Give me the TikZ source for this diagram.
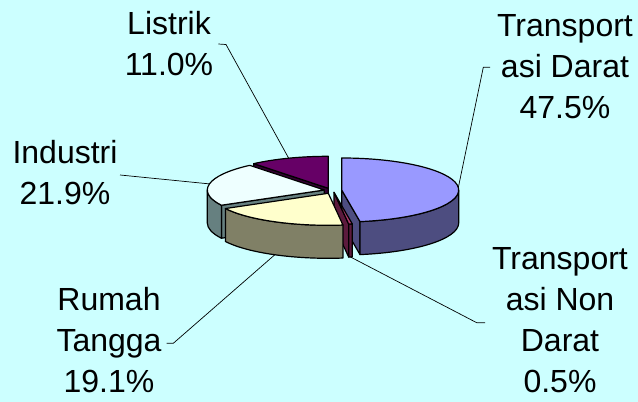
\documentclass[tikz,border=0pt]{standalone}
\usepackage{fontspec}
\setmainfont{Liberation Sans}
\usepackage{tikz}
\usetikzlibrary{positioning}

\definecolor{bgcyan}{HTML}{CCFFFF}
\definecolor{daratTop}{HTML}{9999FF}
\definecolor{daratSide}{HTML}{4D4D80}
\definecolor{nondaratTop}{HTML}{B33A70}
\definecolor{nondaratSide}{HTML}{5C1A3D}
\definecolor{rumahTop}{HTML}{FFFFCC}
\definecolor{rumahSide}{HTML}{808066}
\definecolor{industriTop}{HTML}{EEFFFF}
\definecolor{industriSide}{HTML}{668080}
\definecolor{listrikTop}{HTML}{660066}
\definecolor{listrikSide}{HTML}{330033}

\tikzset{
  rim/.style={x radius=117pt, y radius=32pt},
  face/.style={draw=black, line width=1.2pt, line join=round},
  leader/.style={draw=black, line width=0.7pt},
  label/.style={align=center, anchor=base, inner sep=0pt,
    font=\fontsize{32}{41}\selectfont}
}

\begin{document}
\begin{tikzpicture}[x=1pt, y=1pt]
  \fill[bgcyan] (0,0) rectangle (638,402);
  \useasboundingbox (0,0) rectangle (638,402);

  % slice centres (exploded)
  \coordinate (cD) at (341.7,212.0);
  \coordinate (cN) at (334.0,209.7);
  \coordinate (cR) at (328.3,208.7);
  \coordinate (cI) at (324.3,212.0);
  \coordinate (cL) at (328.3,213.7);

  % Listrik: 90 -> 129.6
  \path (cL) +(129.6:117pt and 32pt) coordinate (L2);
  \draw[face, fill=listrikSide] (cL) -- (L2) -- ([yshift=-33pt]L2) -- ([yshift=-33pt]cL) -- cycle;
  \draw[face, fill=listrikTop] (cL) -- ++(90:117pt and 32pt) arc[rim, start angle=90, end angle=129.6] -- cycle;

  % Industri: 129.6 -> 208.44
  \path (cI) +(208.44:117pt and 32pt) coordinate (I2);
  \draw[face, fill=industriSide] (cI) -- (I2) -- ([yshift=-33pt]I2) -- ([yshift=-33pt]cI) -- cycle;
  \draw[face, fill=industriSide] (cI) ++(180:117pt and 32pt) arc[rim, start angle=180, end angle=208.44]
    -- ++(0,-33) arc[rim, start angle=208.44, end angle=180] -- cycle;
  \draw[face, fill=industriTop] (cI) -- ++(129.6:117pt and 32pt) arc[rim, start angle=129.6, end angle=208.44] -- cycle;

  % Transportasi Darat: -81 -> 90
  \path (cD) +(-81:117pt and 32pt) coordinate (D1);
  \draw[face, fill=daratSide] (cD) -- (D1) -- ([yshift=-33pt]D1) -- ([yshift=-33pt]cD) -- cycle;
  \draw[face, fill=daratSide] (cD) ++(-81:117pt and 32pt) arc[rim, start angle=-81, end angle=0]
    -- ++(0,-33) arc[rim, start angle=0, end angle=-81] -- cycle;
  \draw[face, fill=daratTop] (cD) -- ++(-81:117pt and 32pt) arc[rim, start angle=-81, end angle=90] -- cycle;

  % Transportasi Non Darat: -82.8 -> -81
  \path (cN) +(-82.8:117pt and 32pt) coordinate (N1);
  \draw[face, fill=nondaratSide] (cN) -- (N1) -- ([yshift=-33pt]N1) -- ([yshift=-33pt]cN) -- cycle;
  \draw[face, fill=nondaratSide] (cN) ++(-82.8:117pt and 32pt) arc[rim, start angle=-82.8, end angle=-81]
    -- ++(0,-33) arc[rim, start angle=-81, end angle=-82.8] -- cycle;
  \draw[face, fill=nondaratTop] (cN) -- ++(-82.8:117pt and 32pt) arc[rim, start angle=-82.8, end angle=-81] -- cycle;

  % Rumah Tangga: -151.56 -> -82.8
  \draw[face, fill=rumahSide] (cR) ++(-151.56:117pt and 32pt) arc[rim, start angle=-151.56, end angle=-82.8]
    -- ++(0,-33) arc[rim, start angle=-82.8, end angle=-151.56] -- cycle;
  \draw[face, fill=rumahTop] (cR) -- ++(-151.56:117pt and 32pt) arc[rim, start angle=-151.56, end angle=-82.8] -- cycle;

  % leader ends on the pie
  \path (cL) ++(109.8:117pt and 32pt) coordinate (pL);
  \path (cI) ++(169.0:117pt and 32pt) coordinate (pI);
  \path (cD) ++(4.5:117pt and 32pt) coordinate (pD);
  \path (cN) ++(-81.9:117pt and 32pt) ++(0,-33) coordinate (pN);
  \path (cR) ++(-117.2:117pt and 32pt) ++(0,-33) coordinate (pR);

  % labels (anchored on the last line)
  \node[label] (lsLabel) at (169,326) {Listrik\\11.0\%};
  \node[label] (inLabel) at (65,197) {Industri\\21.9\%};
  \node[label] (tdLabel) at (565,283) {Transport\\asi Darat\\47.5\%};
  \node[label] (tnLabel) at (560,9.5) {Transport\\asi Non\\Darat\\0.5\%};
  \node[label] (rtLabel) at (109,9.5) {Rumah\\Tangga\\19.1\%};

  % leaders
  \coordinate (lsTick) at (218.3,358);
  \coordinate (lsBend) at (226,357.5);
  \coordinate (inTick) at (120,227);
  \coordinate (tdTick) at (490,334.7);
  \coordinate (tdBend) at (483.3,334.7);
  \coordinate (tnBend) at (476.7,79.3);
  \coordinate (tnTick) at (485,79.3);
  \coordinate (rtBend) at (173.3,58.7);
  \coordinate (rtTick) at (166.7,58.7);
  \draw[leader] (lsTick) -- (lsBend) -- (pL);
  \draw[leader] (inTick) -- (pI);
  \draw[leader] (tdTick) -- (tdBend) -- (pD);
  \draw[leader] (pN) -- (tnBend) -- (tnTick);
  \draw[leader] (pR) -- (rtBend) -- (rtTick);
\end{tikzpicture}
\end{document}
